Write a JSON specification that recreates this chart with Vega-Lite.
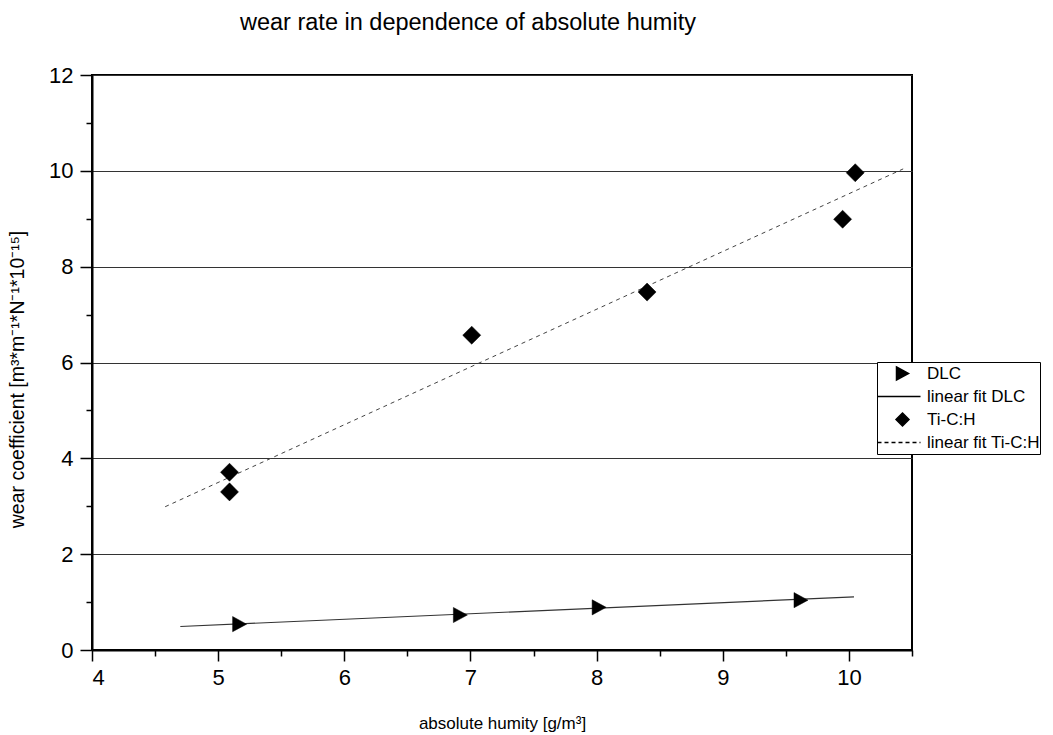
{
  "$schema": "https://vega.github.io/schema/vega-lite/v6.json",
  "autosize": {"type": "none"},
  "width": 820,
  "height": 575,
  "padding": {"left": 92, "top": 75, "right": 141, "bottom": 85},
  "background": "white",
  "config": {
    "font": "Liberation Sans",
    "view": {"stroke": "black", "strokeWidth": 2},
    "axis": {"domainColor": "black", "tickColor": "black", "labelColor": "black", "titleColor": "black", "titleFontWeight": "normal"}
  },
  "title": {
    "text": "wear rate in dependence of absolute humity",
    "fontSize": 23.5,
    "fontWeight": "normal",
    "font": "Liberation Sans",
    "color": "black",
    "anchor": "start",
    "frame": "group",
    "dx": 148,
    "offset": 30
  },
  "data": {
    "values": [
      {"series": "DLC", "humidity": 5.17, "wear": 0.54},
      {"series": "DLC", "humidity": 6.92, "wear": 0.73},
      {"series": "DLC", "humidity": 8.02, "wear": 0.89},
      {"series": "DLC", "humidity": 9.62, "wear": 1.04},
      {"series": "Ti-C:H", "humidity": 5.09, "wear": 3.71},
      {"series": "Ti-C:H", "humidity": 5.09, "wear": 3.30},
      {"series": "Ti-C:H", "humidity": 7.01, "wear": 6.57},
      {"series": "Ti-C:H", "humidity": 8.40, "wear": 7.47},
      {"series": "Ti-C:H", "humidity": 9.95, "wear": 8.99},
      {"series": "Ti-C:H", "humidity": 10.05, "wear": 9.96},
      {"series": "linear fit DLC", "humidity": 4.70, "wear": 0.49},
      {"series": "linear fit DLC", "humidity": 10.04, "wear": 1.11},
      {"series": "linear fit Ti-C:H", "humidity": 4.58, "wear": 2.99},
      {"series": "linear fit Ti-C:H", "humidity": 10.43, "wear": 10.04}
    ]
  },
  "resolve": {"axis": {"x": "independent", "y": "independent"}},
  "layer": [
    {
      "transform": [{"filter": "datum.series === 'linear fit DLC'"}],
      "mark": {"type": "line", "color": "#333333", "strokeWidth": 1.2},
      "encoding": {
        "x": {"field": "humidity", "type": "quantitative", "scale": {"domain": [4, 10.5], "nice": false, "zero": false},
          "axis": {"orient": "bottom", "values": [4.5, 5.5, 6.5, 7.5, 8.5, 9.5, 10.5], "labels": false, "domain": false, "grid": false, "title": null, "tickSize": 6, "tickWidth": 1.5}},
        "y": {"field": "wear", "type": "quantitative", "scale": {"domain": [0, 12], "nice": false},
          "axis": {"orient": "left", "values": [1, 3, 5, 7, 9, 11], "labels": false, "domain": false, "grid": false, "title": null, "tickSize": 6, "tickWidth": 1.5}}
      }
    },
    {
      "transform": [{"filter": "datum.series === 'linear fit Ti-C:H'"}],
      "mark": {"type": "line", "color": "#444444", "strokeWidth": 1, "strokeDash": [4, 4]},
      "encoding": {
        "x": {"field": "humidity", "type": "quantitative",
          "axis": {"orient": "bottom", "values": [4, 5, 6, 7, 8, 9, 10], "grid": false, "tickSize": 11, "tickWidth": 1.5, "domainWidth": 2, "labelFontSize": 22, "labelPadding": 6, "title": "absolute humity [g/m³]", "titleFontSize": 17, "titlePadding": 27}},
        "y": {"field": "wear", "type": "quantitative",
          "axis": {"orient": "left", "values": [0, 2, 4, 6, 8, 10, 12], "grid": true, "gridColor": "#333333", "gridWidth": 1, "gridOpacity": 1, "tickSize": 12, "tickWidth": 1.5, "domainWidth": 2, "labelFontSize": 22, "labelPadding": 7, "title": "wear coefficient [m³*m⁻¹*N⁻¹*10⁻¹⁵]", "titleFontSize": 19.5, "titlePadding": 21, "titleY": 304}}
      }
    },
    {
      "transform": [{"filter": "datum.series === 'DLC'"}],
      "mark": {"type": "point", "filled": true, "fill": "black", "stroke": "black", "strokeWidth": 0.5, "opacity": 1, "size": 136},
      "encoding": {
        "x": {"field": "humidity", "type": "quantitative", "axis": null},
        "y": {"field": "wear", "type": "quantitative", "axis": null},
        "shape": {"field": "series", "type": "nominal",
          "scale": {"domain": ["DLC", "linear fit DLC", "Ti-C:H", "linear fit Ti-C:H"],
            "range": ["M-1.2,-1.3L1.2,0L-1.2,1.3Z", "M-5,0L3.6,0", "M0,-1.3L1.3,0L0,1.3L-1.3,0Z", "M-5,0H-4.2M-3.6,0H-2.8M-2.2,0H-1.4M-0.8,0H0M0.6,0H1.4M2,0H2.8M3.4,0H3.6"]},
          "legend": {"orient": "none", "legendX": 785, "legendY": 287, "title": null, "padding": 0, "strokeColor": "black", "fillColor": "white", "symbolSize": 100, "symbolOffset": 17, "labelOffset": 16, "clipHeight": 23, "rowPadding": 0, "labelFontSize": 17, "labelColor": "black", "labelFont": "Liberation Sans", "symbolFillColor": "black", "symbolOpacity": 1,
            "encode": {"symbols": {"update": {"stroke": {"value": "#222222"}, "strokeWidth": {"value": 1}, "fill": {"value": "black"}, "opacity": {"value": 1}}}}}}
      }
    },
    {
      "transform": [{"filter": "datum.series === 'Ti-C:H'"}],
      "mark": {"type": "point", "filled": true, "fill": "black", "stroke": "black", "strokeWidth": 0.5, "opacity": 1, "size": 192},
      "encoding": {
        "x": {"field": "humidity", "type": "quantitative", "axis": null},
        "y": {"field": "wear", "type": "quantitative", "axis": null},
        "shape": {"field": "series", "type": "nominal"}
      }
    }
  ]
}
